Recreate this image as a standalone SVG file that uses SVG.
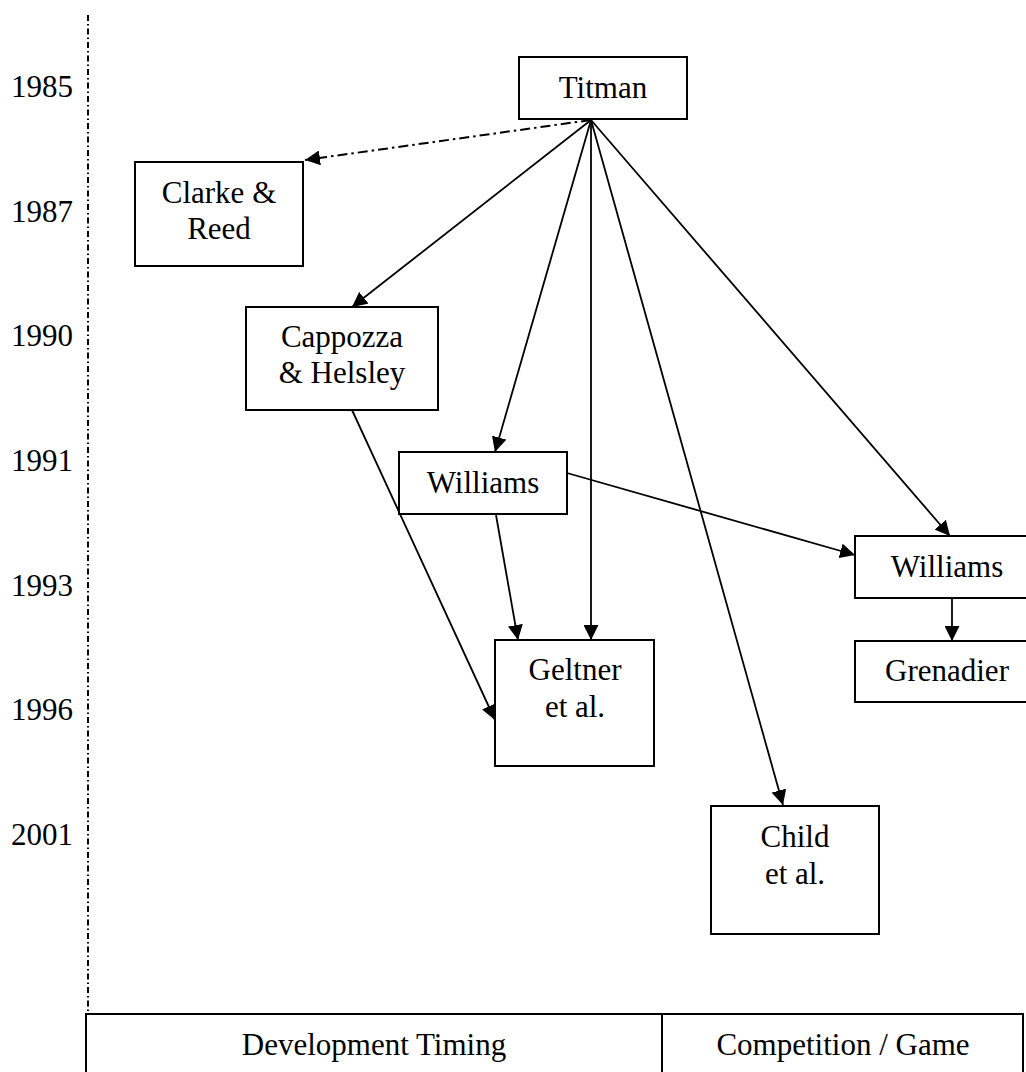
<svg xmlns="http://www.w3.org/2000/svg" width="1026" height="1072" viewBox="0 0 1026 1072">
<style>
text{font-family:"Liberation Serif","Times New Roman",serif;font-size:31px;fill:#000}
.c{text-anchor:middle}
.y{text-anchor:end}
.box{fill:#fff;stroke:#000;stroke-width:2}
.edge{stroke:#000;stroke-width:1.8;fill:none;marker-end:url(#ah)}
.dd{stroke-width:2;stroke-dasharray:10 4 2.5 4}
.axis{stroke:#000;stroke-width:2;stroke-dasharray:6 3 1.5 3;fill:none}
</style>
<defs>
<marker id="ah" markerUnits="userSpaceOnUse" markerWidth="16" markerHeight="15" refX="15" refY="7.5" orient="auto">
<path d="M0,0 L15,7.5 L0,15 Z" fill="#000"/>
</marker>
</defs>
<rect width="1026" height="1072" fill="#fff"/>
<g id="axis">
<line class="axis" x1="88" y1="15" x2="88" y2="1014"/>
<text class="y" x="73" y="97">1985</text>
<text class="y" x="73" y="222">1987</text>
<text class="y" x="73" y="346">1990</text>
<text class="y" x="73" y="471">1991</text>
<text class="y" x="73" y="596">1993</text>
<text class="y" x="73" y="720">1996</text>
<text class="y" x="73" y="845">2001</text>
</g>
<g id="connectors">
<line class="edge dd" x1="591" y1="120" x2="305" y2="160"/>
<line class="edge" x1="591" y1="120" x2="352" y2="307"/>
<line class="edge" x1="591" y1="120" x2="495" y2="452"/>
<line class="edge" x1="591" y1="120" x2="591" y2="640"/>
<line class="edge" x1="591" y1="120" x2="783" y2="805"/>
<line class="edge" x1="591" y1="120" x2="950" y2="536"/>
<line class="edge" x1="496" y1="515" x2="518" y2="640"/>
<line class="edge" x1="567" y1="473" x2="855" y2="555"/>
<line class="edge" x1="352" y1="410" x2="495" y2="720"/>
<line class="edge" x1="952" y1="598" x2="952" y2="641"/>
</g>
<g id="titman">
<rect class="box" x="519" y="57" width="168" height="62"/>
<text class="c" x="603" y="98">Titman</text>
</g>
<g id="clarke-reed">
<rect class="box" x="135" y="162" width="168" height="104"/>
<text class="c" x="219" y="203">Clarke &amp;</text>
<text class="c" x="219" y="239">Reed</text>
</g>
<g id="cappozza-helsley">
<rect class="box" x="246" y="307" width="192" height="103"/>
<text class="c" x="342" y="347">Cappozza</text>
<text class="c" x="342" y="383">&amp; Helsley</text>
</g>
<g id="williams-1991">
<rect class="box" x="399" y="452" width="168" height="62"/>
<text class="c" x="483" y="493">Williams</text>
</g>
<g id="williams-1993">
<rect class="box" x="855" y="536" width="184" height="62"/>
<text class="c" x="947" y="577">Williams</text>
</g>
<g id="grenadier">
<rect class="box" x="855" y="641" width="184" height="61"/>
<text class="c" x="947" y="681">Grenadier</text>
</g>
<g id="geltner">
<rect class="box" x="495" y="640" width="159" height="126"/>
<text class="c" x="575" y="680">Geltner</text>
<text class="c" x="575" y="717">et al.</text>
</g>
<g id="child">
<rect class="box" x="711" y="806" width="168" height="128"/>
<text class="c" x="795" y="847">Child</text>
<text class="c" x="795" y="884">et al.</text>
</g>
<g id="development-timing">
<rect class="box" x="86" y="1014" width="576" height="80"/>
<text class="c" x="374" y="1055">Development Timing</text>
</g>
<g id="competition-game">
<rect class="box" x="662" y="1014" width="361" height="80"/>
<text class="c" x="843" y="1055">Competition / Game</text>
</g>
</svg>
